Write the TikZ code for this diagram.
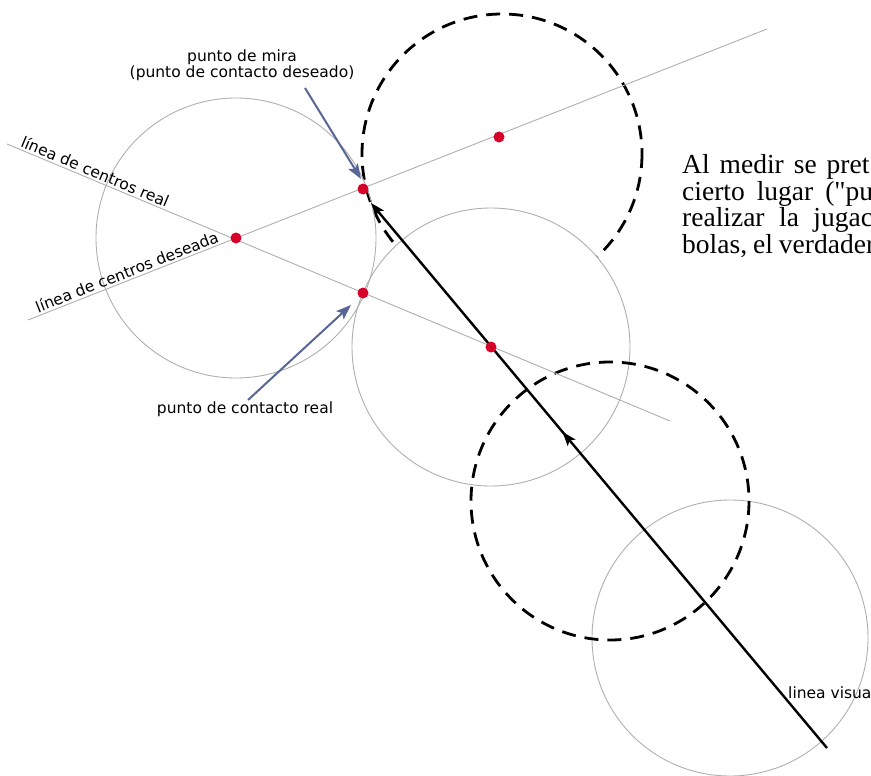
\documentclass[tikz,border=0pt]{standalone}
\usepackage{fontspec}
\setmainfont{Liberation Serif}
\newfontfamily\labelfont{DejaVu Sans}
\usepackage{tikz}
\usetikzlibrary{arrows.meta, decorations.markings}
\definecolor{dotred}{RGB}{214,0,40}
\definecolor{ballgray}{RGB}{175,175,175}
\definecolor{pointerblue}{RGB}{88,102,150}
\tikzset{
	ball/.style={
		draw=ballgray,
		line width=0.9pt
	},
	ghost/.style={
		draw=black,
		line width=2.8pt,
		dash pattern=on 14pt off 9pt
	},
	centreline/.style={
		draw=ballgray,
		line width=0.9pt
	},
	spot/.style={
		circle,
		fill=dotred,
		inner sep=0pt,
		minimum size=11pt
	},
	pointer/.style={
		draw=pointerblue,
		line width=2pt,
		-{Stealth[length=15pt, width=11pt, inset=3pt]}
	},
	sight/.style={
		draw=black,
		line width=2.4pt,
		-{Stealth[length=14pt, width=10pt, inset=3pt]},
		postaction={decorate},
		decoration={markings, mark=at position 0.58 with {\arrow{Stealth[length=14pt, width=10pt, inset=3pt]}}}
	},
	lbl/.style={
		font=\labelfont\fontsize{15.5}{16}\selectfont,
		inner sep=2pt
	},
	prose/.style={
		font=\fontsize{27.5}{27}\selectfont,
		anchor=base west,
		inner sep=0pt
	}
}

\begin{document}
\begin{tikzpicture}[x=1pt, y=-1pt]
		\useasboundingbox (0,0) rectangle (871,776);
		\clip (0,0) rectangle (871,776);
		
		% ghost ball at the aiming point, hidden behind the real cue ball
		\draw[ghost] (502,154) circle (140);
		\draw[ball, fill=white] (491,347) circle (139);
		
		% ball outlines
		\draw[ball] (236,238) circle (140);
		\draw[ball] (730,638) circle (138);
		\draw[ghost] (610,501) circle (139);
		
		% line ends
		\coordinate (realstart) at (7,144);
		\coordinate (realend) at (670,421);
		\coordinate (wishstart) at (28,320);
		\coordinate (wishend) at (767,29);
		\coordinate (eye) at (827,748);
		\coordinate (sighttip) at (371,203);
		
		% lines of centres
		\draw[centreline] (realstart) -- (realend)
			node[lbl, pos=0.128, sloped, above] {línea de centros real};
		\draw[centreline] (wishstart) -- (wishend)
			node[lbl, pos=0.138, sloped, above] {línea de centros deseada};
		
		% line of sight
		\draw[sight] (eye) -- (sighttip);
		
		% centres and contact points
		\node[spot] (objc) at (236,238) {};
		\node[spot] (aim) at (363,189) {};
		\node[spot] (ghostc) at (499,137) {};
		\node[spot] (contact) at (363,293) {};
		\node[spot] (cuec) at (491,347) {};
		
		% labels
		\node[lbl, align=center] (miralbl) at (242,65) {punto de mira\\(punto de contacto deseado)};
		\node[lbl] (contactlbl) at (245,409) {punto de contacto real};
		\node[lbl, anchor=base west] (visuallbl) at (786,698) {linea visual};
		
		\coordinate (miratail) at (305,88);
		\coordinate (contacttail) at (248,400);
		\draw[pointer] (miratail) -- (361,179);
		\draw[pointer] (contacttail) -- (351,305);
		
		% text beside the figure
		\node[prose] (prose1) at (682,173) {Al\hspace{10pt}medir\hspace{10pt}se\hspace{10pt}pret};
		\node[prose] (prose2) at (682,200) {cierto\hspace{12pt}lugar\hspace{12pt}(\textquotedbl pu};
		\node[prose] (prose3) at (682,226.5) {realizar\hspace{14.5pt}la\hspace{14.5pt}jugac};
		\node[prose] (prose4) at (682,253) {bolas,\hspace{6pt}el\hspace{6pt}verdader};
		
\end{tikzpicture}
\end{document}
